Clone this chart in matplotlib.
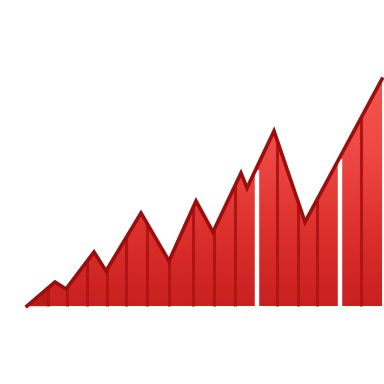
import numpy as np
import matplotlib
matplotlib.use("Agg")
import matplotlib.pyplot as plt
from matplotlib.colors import LinearSegmentedColormap

# data (x position, value)
x_pts = [27, 55, 66, 94, 106, 141, 169, 196, 213, 241, 247, 274, 305, 382]
y_vals = [0, 24, 17, 54, 35, 93, 45, 105, 74, 133, 118, 175, 84, 227]
stripe_x = [48, 67, 87, 107, 126, 147, 169, 193, 214, 235, 277, 298, 317, 361]
gap_x = [256.5, 340]

fig = plt.figure(figsize=(3.84, 3.84), dpi=100)
ax = fig.add_axes([0, 0, 1, 1])
ax.set_xlim(0, 384)
ax.set_ylim(-78, 306)
ax.axis("off")

poly = ax.fill_between(x_pts, 0, y_vals, facecolor="none", edgecolor="none")
cmap = LinearSegmentedColormap.from_list("r", ["#c82020", "#dc302c", "#ee4844", "#f4544f"])
grad = np.linspace(0, 1, 256).reshape(-1, 1)
im = ax.imshow(grad, cmap=cmap, origin="lower", aspect="auto",
               extent=[x_pts[0], x_pts[-1], 0, max(y_vals)], zorder=1)
path = poly.get_paths()[0]
im.set_clip_path(path, transform=ax.transData)

# darker first segment
xs = np.linspace(x_pts[0], stripe_x[0], 20)
ax.fill_between(xs, 0, np.interp(xs, x_pts, y_vals), color="#a80e0e", alpha=0.35,
                linewidth=0, zorder=1.5)

stripe_top = np.interp(stripe_x, x_pts, y_vals)
ax.vlines(stripe_x, 0, stripe_top, colors="#b01414", linewidth=2.2, zorder=2)

gap_top = np.interp(gap_x, x_pts, y_vals)
ax.vlines(gap_x, 0, gap_top - 2, colors="white", linewidth=3.2, zorder=3)

ax.plot(x_pts, y_vals, color="#a00c0c", linewidth=2.6, solid_joinstyle="miter", zorder=4)

fig.savefig("out.png", dpi=100)
